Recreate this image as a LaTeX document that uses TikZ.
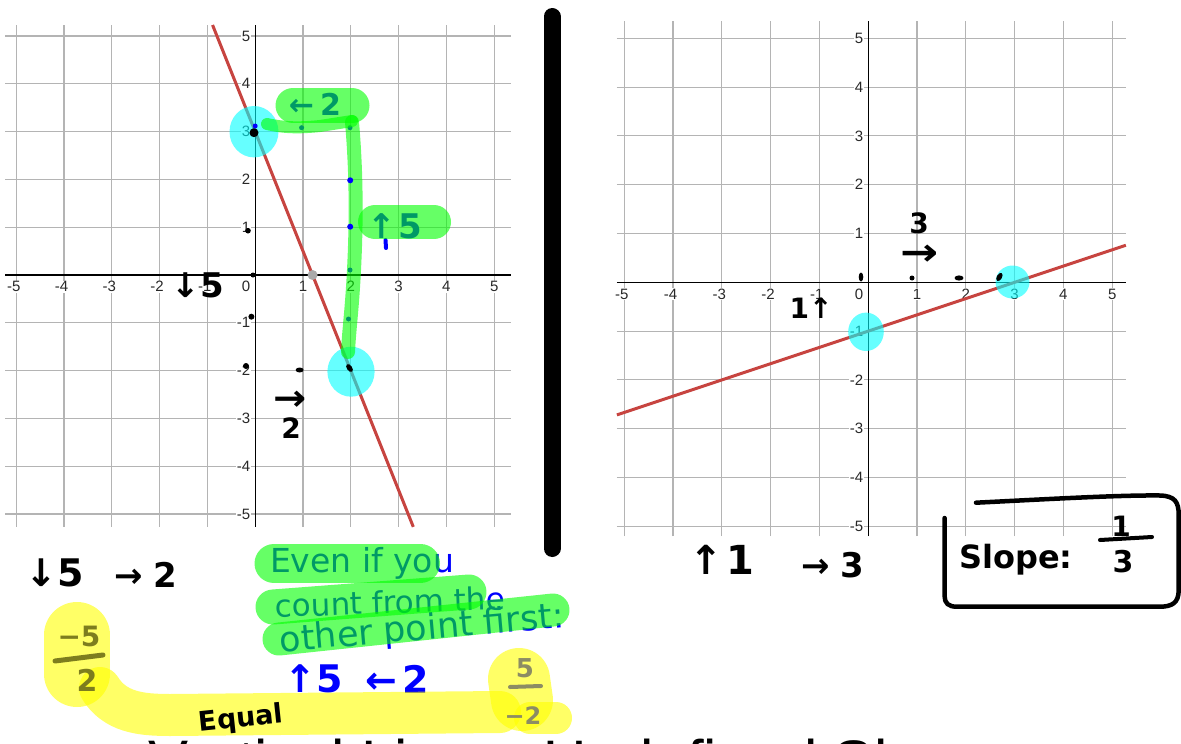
\documentclass[tikz,border=0pt]{standalone}
\usepackage{fontspec}
\setmainfont{Liberation Sans}
\newfontfamily\handfont{DejaVu Sans}
\definecolor{dred}{RGB}{199,68,64}
\definecolor{glabel}{RGB}{40,40,40}
\definecolor{gridc}{RGB}{180,180,180}
\definecolor{olivink}{RGB}{125,125,30}
\definecolor{grayink}{RGB}{140,140,100}
\definecolor{ptgray}{RGB}{170,170,170}
\definecolor{hcyan}{RGB}{0,255,255}
\definecolor{hgreen}{RGB}{0,255,0}
\definecolor{hyellow}{RGB}{255,255,0}
\definecolor{inkblue}{RGB}{0,0,255}
\newcommand{\axnum}[1]{\ifnum#1<0 \llap{-}\number\numexpr 0-(#1)\relax\else#1\fi}
\begin{document}
\begin{tikzpicture}[x=1pt,y=-1pt,
  gridline/.style={draw=gridc, line width=1.1pt},
  axisline/.style={draw=black, line width=1.4pt},
  axlabel/.style={font=\fontsize{15}{15}\selectfont, text=glabel, fill=white, inner sep=0.8pt},
  redline/.style={draw=dred, line width=3pt},
  hlcyan/.style={fill=hcyan, fill opacity=0.6},
  hlgreen/.style={draw=hgreen, draw opacity=0.6, line cap=round, line join=round},
  hlyellow/.style={draw=hyellow, draw opacity=0.6, line cap=round, line join=round},
  handb/.style={font={\handfont\bfseries\fontsize{#1}{#1}\selectfont}, inner sep=0pt},
  handr/.style={font={\handfont\fontsize{#1}{#1}\selectfont}, inner sep=0pt},
  marker/.style={line width=#1, line cap=round, line join=round}
]
\fill[white] (0,0) rectangle (1181,744);
\useasboundingbox (0,0) rectangle (1181,744);
\clip (0,0) rectangle (1181,744);

% ---------------- left graph ----------------
\begin{scope}[shift={(255.2,275)}, x=47.8pt, y=47.8pt]
  \foreach \i in {-5,...,5} \draw[gridline] (\i,-5.27) -- (\i,5.23);
  \foreach \i in {-5,...,5} \draw[gridline] (-5.23,\i) -- (5.36,\i);
  \draw[axisline] (-5.23,0) -- (5.36,0);
  \draw[axisline] (0,-5.27) -- (0,5.23);
  \foreach \i in {-5,-4,-3,-2,-1,1,2,3,4,5}
    \node[axlabel] (LX\i) at (\i,-0.245) {\axnum{\i}};
  \foreach \i in {-5,-4,-3,-2,-1,1,2,3,4,5}
    \node[axlabel, anchor=east] (LY\i) at (-0.084,\i) {\i};
  \node[axlabel, anchor=east] (LO) at (-0.084,-0.245) {0};
  \coordinate (LredA) at (-0.892,5.23);
  \coordinate (LredB) at (3.308,-5.27);
  \draw[redline] (LredA) -- (LredB);
  \fill[ptgray] (1.2,0) circle (5pt);
\end{scope}

% ---------------- right graph ----------------
\begin{scope}[shift={(868.2,282.3)}, x=48.8pt, y=48.8pt]
  \foreach \i in {-5,...,5} \draw[gridline] (\i,-5.2) -- (\i,5.35);
  \foreach \i in {-5,...,5} \draw[gridline] (-5.15,\i) -- (5.28,\i);
  \draw[axisline] (-5.15,0) -- (5.28,0);
  \draw[axisline] (0,-5.2) -- (0,5.35);
  \foreach \i in {-5,-4,-3,-2,-1,1,2,3,4,5}
    \node[axlabel] (RX\i) at (\i,-0.24) {\axnum{\i}};
  \foreach \i in {-5,-4,-3,-2,-1,1,2,3,4,5}
    \node[axlabel, anchor=east] (RY\i) at (-0.082,\i) {\i};
  \node[axlabel, anchor=east] (RO) at (-0.082,-0.24) {0};
  \coordinate (RredA) at (-5.15,-2.717);
  \coordinate (RredB) at (5.28,0.76);
  \draw[redline] (RredA) -- (RredB);
\end{scope}

% ---------------- cyan highlights ----------------
\fill[hlcyan] (254,131.7) ellipse [x radius=24.5pt, y radius=25.7pt];
\fill[hlcyan] (351,371.7) ellipse [x radius=23.6pt, y radius=25pt];
\fill[hlcyan] (1012.5,282) ellipse [x radius=17pt, y radius=16.5pt];
\fill[hlcyan] (866,331.8) ellipse [x radius=17.8pt, y radius=19.2pt];

% ---------------- black ink dots ----------------
\fill (254,132.7) circle (4.5pt);
\fill (253,275) circle (2.5pt);
\fill (248,230.7) circle (2.8pt);
\fill (251.4,316.7) circle (3pt);
\fill (246,366) circle (3pt);
\fill (299.6,370) ellipse [x radius=4pt, y radius=2.5pt];
\fill[rotate around={-55:(349.5,368)}] (349.5,368) ellipse [x radius=4.5pt, y radius=2.6pt];
\fill (861,277) ellipse [x radius=2.3pt, y radius=4.5pt];
\fill (912,278) circle (2.5pt);
\fill (959,278) ellipse [x radius=4.5pt, y radius=2.6pt];
\fill[rotate around={60:(999.4,277)}] (999.4,277) ellipse [x radius=4.5pt, y radius=2.6pt];

% ---------------- black handwriting on graphs ----------------
\node[handb=34] (hL1) at (198,285) {↓5};
\node[handb=36, xscale=1.1] (hL2) at (290,401) {→};
\node[handb=28] (hL3) at (291,428) {2};
\node[handb=28] (hR1) at (919,223) {3};
\node[handb=38, xscale=1.2] (hR2) at (920,255) {→};
\node[handb=28] (hR3) at (811,308) {1↑};

% ---------------- blue ink (left graph) ----------------
\fill[inkblue] (301.6,127.7) circle (2.5pt);
\fill[inkblue] (350,127.7) circle (2.5pt);
\fill[inkblue] (350,270) circle (2.5pt);
\fill[inkblue] (348.5,319) circle (2.5pt);
\node[handb=30, text=inkblue] (gP1) at (315,104) {←\hspace{6pt}2};
\node[handb=34, text=inkblue] (gP2) at (395,226) {↑\hspace{2pt}5};
\draw[inkblue, marker=4pt] (385.5,240) -- (386,248);

% green highlights on graph
\draw[hlgreen, line width=35pt] (293,105.5) -- (352,105.5);
\draw[hlgreen, line width=34pt] (375,222) -- (434,222);
\draw[hlgreen, line width=12pt] (267,124) .. controls (285,128) and (300,128) .. (320,126) -- (352,121);
\draw[hlgreen, line width=14pt] (352,122) .. controls (357,180) and (356,230) .. (354,270) .. controls (352,310) and (349,330) .. (348,352);

\fill[inkblue] (255.2,126) circle (2.5pt);
\fill[inkblue] (350.2,180.3) circle (3pt);
\fill[inkblue] (350.2,226.7) circle (3pt);

% ---------------- divider bar ----------------
\draw[line width=17pt, line cap=round] (552,16.5) -- (552,548.5);

% ---------------- bottom left notes ----------------
\node[handb=38] (hB1) at (55,573) {↓5};
\node[handb=34] (hB2) at (146,575) {→\hspace{10pt}2};

% green block
\node[handr=33, text=inkblue] (gT1) at (362,563) {Even if you};
\node[handr=31, text=inkblue, rotate=2] (gT2) at (390,602) {count from the};
\node[handr=35, text=inkblue, rotate=5] (gT3) at (422,630) {other point first:};
\draw[hlgreen, line width=39pt] (274,563.5) -- (420.5,563.5);
\draw[hlgreen, line width=35pt] (273,607) -- (469,592);
\draw[hlgreen, line width=33pt] (279,639) -- (553,610);
\node[handb=38, text=inkblue] (gT4) at (314,679) {↑5};
\node[handb=38, text=inkblue] (gT5) at (397,679) {←\hspace{5pt}2};

% title (cut off)
\node[font=\fontsize{60}{60}\selectfont, anchor=base west, inner sep=0pt] (title) at (148,782) {Vertical Lines: Undefined Slope};

% yellow highlights
\draw[hlyellow, line width=66pt] (77,635) -- (77,674);
\draw[hlyellow, line width=42pt] (100,688) .. controls (115,712) and (140,715) .. (170,715) -- (500,712);
\draw[hlyellow, line width=62pt] (519,679) -- (522,700);
\draw[hlyellow, line width=32pt] (530,718) -- (556,718);

\node[handb=27, rotate=6] (hEq) at (241,720) {Equal};
\node[handb=28, text=olivink] (fL1) at (79,636) {−5};
\draw[olivink, marker=5pt] (55,661) -- (103,655);
\node[handb=30, text=olivink] (fL2) at (87,680) {2};
\node[handb=26, text=grayink] (fR1) at (525,668) {5};
\draw[grayink, marker=4pt] (510,687) -- (541,686);
\node[handb=24, text=grayink] (fR2) at (523,716) {−2};

% ---------------- bottom right notes ----------------
\node[handb=40] (hB3) at (722,560) {↑\hspace{4pt}1};
\node[handb=34] (hB4) at (833,565) {→\hspace{10pt}3};
\node[handb=32] (hB5) at (1016,560) {Slope:};
\node[handb=28] (hB6) at (1121,526) {1};
\node[handb=30] (hB7) at (1123,562) {3};
\draw[marker=4pt] (1100,540) -- (1152,537);
\draw[marker=4.5pt] (976,502.7) .. controls (1050,499) and (1120,495) .. (1160,495.5)
  .. controls (1175,496) and (1178.7,502) .. (1178.7,515) -- (1178.7,590)
  .. controls (1178.7,603) and (1172,606.7) .. (1159.5,606.7) -- (957,606.7)
  .. controls (948,606.7) and (944.6,603) .. (944.6,596) -- (944.6,518);
\end{tikzpicture}
\end{document}
